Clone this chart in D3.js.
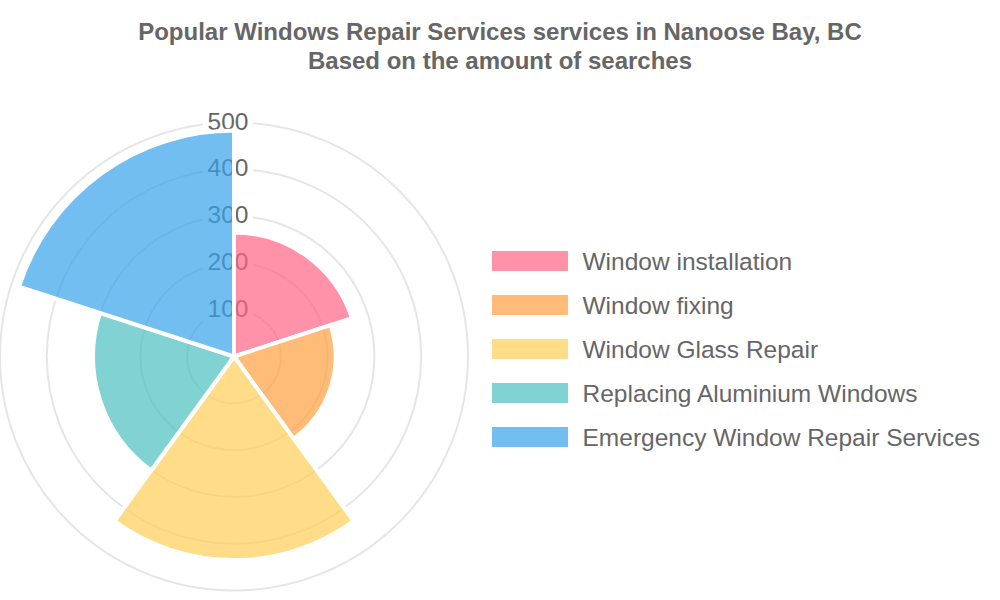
<!DOCTYPE html>
<html><head><meta charset="utf-8">
<script src="https://cdn.jsdelivr.net/npm/d3@7"></script>
<style>body{margin:0;background:#fff}svg{display:block}</style>
</head><body>
<svg id="c" width="1000" height="600"></svg>
<script>
const categories = ["Window installation","Window fixing","Window Glass Repair","Replacing Aluminium Windows","Emergency Window Repair Services"];
const values = [265, 217, 435, 301, 483];
const ticks = [100, 200, 300, 400, 500];
const colors = ["rgb(255,99,132)","rgb(255,159,64)","rgb(255,205,86)","rgb(75,192,192)","rgb(54,162,235)"];
const titleLines = ["Popular Windows Repair Services services in Nanoose Bay, BC","Based on the amount of searches"];

const svg = d3.select("#c");
const font = "Liberation Sans, Arial, sans-serif";
const cx = 234, cy = 356.5, R = 234;
const r = d3.scaleLinear().domain([0, 500]).range([0, R]);

// title
svg.selectAll("text.title").data(titleLines).enter().append("text")
  .attr("x", 500).attr("y", (d,i)=>34 + i*29)
  .attr("text-anchor","middle").attr("dominant-baseline","middle")
  .attr("font-family", font).attr("font-weight","bold").attr("font-size", 24)
  .attr("fill","#666").text(d=>d);

const g = svg.append("g").attr("transform", `translate(${cx},${cy})`);

// grid
g.selectAll("circle.grid").data(ticks).enter().append("circle")
  .attr("r", d=>r(d)).attr("fill","none").attr("stroke","rgba(0,0,0,0.1)").attr("stroke-width",2);

// tick labels with backdrop
const tl = g.selectAll("g.tick").data(ticks).enter().append("g")
  .attr("transform", d=>`translate(-6,${-r(d)-1.5})`);
tl.append("rect").attr("x",-25).attr("y",-13).attr("width",50).attr("height",26).attr("fill","#fff");
tl.append("text").attr("text-anchor","middle").attr("dominant-baseline","central")
  .attr("font-family", font).attr("font-size", 24.5).attr("fill","#666").text(d=>d);

// arcs
const n = categories.length;
const step = 2*Math.PI/n;
const arc = d3.arc().innerRadius(0);
g.selectAll("path.seg").data(values).enter().append("path")
  .attr("d", (d,i)=>arc({outerRadius: r(d), startAngle: i*step, endAngle: (i+1)*step}))
  .attr("fill", (d,i)=>colors[i]).attr("fill-opacity",0.7)
  .attr("stroke","#fff").attr("stroke-width",4).attr("stroke-linejoin","miter");

// legend
const lg = svg.append("g").selectAll("g").data(categories).enter().append("g")
  .attr("transform",(d,i)=>`translate(492,${261 + i*44})`);
lg.append("rect").attr("x",0).attr("y",-10).attr("width",76).attr("height",20)
  .attr("fill",(d,i)=>colors[i]).attr("fill-opacity",0.7);
lg.append("text").attr("x",90.5).attr("y",0).attr("dominant-baseline","central")
  .attr("font-family", font).attr("font-size",24.5).attr("fill","#666").text(d=>d);
</script>
</body></html>
